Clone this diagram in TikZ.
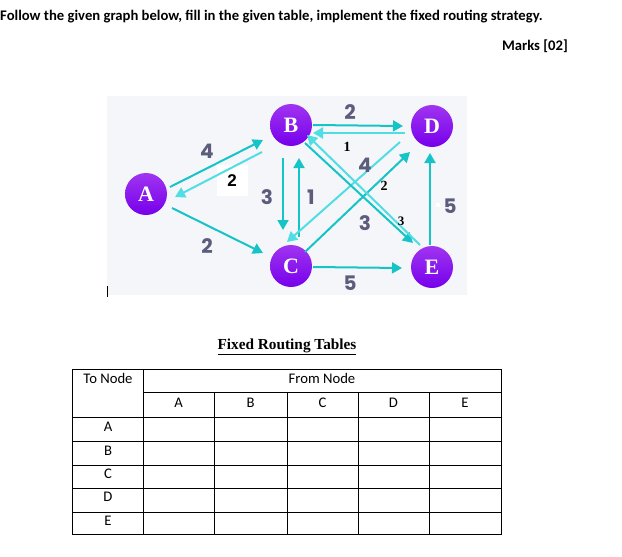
\documentclass[tikz,border=0pt]{standalone}
\usepackage{fontspec}
\setmainfont{Carlito}
\newfontfamily\lblfont{Poppins}
\newfontfamily\serifb{Liberation Serif}
\newfontfamily\sansb{Liberation Sans}
\usetikzlibrary{arrows.meta}
\definecolor{tealdark}{RGB}{22,196,200}
\definecolor{teallight}{RGB}{80,222,228}
\definecolor{lblgray}{RGB}{92,92,124}
\definecolor{bggray}{RGB}{245,246,249}
\definecolor{purtop}{RGB}{160,52,240}
\definecolor{purbot}{RGB}{118,0,235}
\tikzset{
  vtx/.style={circle,minimum size=42pt,inner sep=0pt,top color=purtop,bottom color=purbot,draw=none,
    text=white,font=\serifb\bfseries\fontsize{22}{22}\selectfont},
  edk/.style={draw=tealdark,line width=2pt,-{Triangle[length=10pt,width=11pt]}},
  elt/.style={draw=teallight,line width=2pt,-{Triangle[length=10pt,width=11pt]}},
  wlbl/.style={text=lblgray,font=\lblfont\bfseries\fontsize{20}{20}\selectfont,inner sep=0pt},
  blbl/.style={text=black,font=\serifb\bfseries\fontsize{14}{14}\selectfont,inner sep=0pt},
  cell/.style={font=\fontsize{14.67}{14.67}\selectfont,inner sep=0pt},
  tline/.style={draw=black,line width=0.9pt}
}
\begin{document}
\begin{tikzpicture}[x=1pt,y=-1pt]
\useasboundingbox (0,0) rectangle (622,557);
\fill[white] (0,0) rectangle (622,557);
% heading
\node[anchor=west,inner sep=0pt,font=\bfseries\fontsize{14.67}{14.67}\selectfont] (title) at (0,17) {Follow the given graph below, fill in the given table, implement the fixed routing strategy.};
\node[anchor=east,inner sep=0pt,font=\bfseries\fontsize{14.67}{14.67}\selectfont] (marks) at (568,46) {Marks [02]};
% graph background
\fill[bggray] (107,96) rectangle (467,295);
\draw[black,line width=0.8pt] (107,286) -- (107,297);
% white patch behind the black 2
\node[fill=white,minimum width=31pt,minimum height=31pt,inner sep=0pt] (wb) at (232.5,180.5) {};
% nodes
\node[vtx] (A) at (146,194) {A};
\node[vtx] (B) at (291,125) {B};
\node[vtx] (C) at (291,266) {C};
\node[vtx] (D) at (432,126) {D};
\node[vtx] (E) at (432,267) {E};
% edges
\path[edk] ([shift={(24,-7)}]A.center) -- ([shift={(-28,15)}]B.center);
\path[elt] ([shift={(-29,27)}]B.center) -- ([shift={(29,3)}]A.center);
\path[edk] ([shift={(26,14)}]A.center) -- ([shift={(-28,-13)}]C.center);
\path[edk] ([shift={(-8,33)}]B.center) -- ([shift={(-8,-36)}]C.center);
\path[edk] ([shift={(8,-29)}]C.center) -- ([shift={(8,33)}]B.center);
\path[edk] ([shift={(22,0)}]B.center) -- ([shift={(-29,0)}]D.center);
\path[elt] ([shift={(-27,7)}]D.center) -- ([shift={(22,8)}]B.center);
\path[edk] ([shift={(14,-14)}]C.center) -- ([shift={(-22,26)}]D.center);
\path[elt] ([shift={(-32,16)}]D.center) -- ([shift={(-4,-24)}]C.center);
\path[edk] ([shift={(14,18)}]B.center) -- ([shift={(-19,-24)}]E.center);
\path[elt] ([shift={(-12,-22)}]E.center) -- ([shift={(16,10)}]B.center);
\path[edk] ([shift={(22,1)}]C.center) -- ([shift={(-30,1)}]E.center);
\path[edk] ([shift={(-2,-22)}]E.center) -- ([shift={(-2,27)}]D.center);
% weight labels
\node[wlbl] (l1) at (207,151) {4};
\node[text=black,font=\sansb\bfseries\fontsize{17}{17}\selectfont,inner sep=0pt] (l2) at (232,181) {2};
\node[wlbl] (l3) at (207,246) {2};
\node[wlbl] (l4) at (267,197) {3};
\node[wlbl] (l5) at (311,197) {1};
\node[wlbl] (l6) at (350,112) {2};
\node[blbl] (l7) at (347,147) {1};
\node[wlbl] (l8) at (365,165) {4};
\node[blbl] (l9) at (384,186) {2};
\node[wlbl] (l10) at (365,223) {3};
\node[blbl,font=\serifb\bfseries\fontsize{13}{13}\selectfont] (l11) at (401,221) {3};
\fill[white] (436,203) rectangle (440,207);
\node[wlbl] (l12) at (450,206) {5};
\node[wlbl] (l13) at (350,283) {5};
% table
\node[font=\serifb\bfseries\fontsize{15.3}{15.3}\selectfont,inner sep=0pt] (ttl) at (287,347) {\underline{Fixed Routing Tables}};
\draw[tline] (72,369) rectangle (501,534);
\draw[tline] (143,369) -- (143,534);
\draw[tline] (143,392) -- (501,392);
\foreach \yy in {417,441,465,488,512} \draw[tline] (72,\yy) -- (501,\yy);
\foreach \xx in {214,287,358,429} \draw[tline] (\xx,392) -- (\xx,534);
\node[cell] (tn) at (108,378) {To Node};
\node[cell] (fn) at (322,378) {From Node};
\node[cell] (hA) at (178.5,403) {A};
\node[cell] (hB) at (250.5,403) {B};
\node[cell] (hC) at (322.5,403) {C};
\node[cell] (hD) at (393.5,403) {D};
\node[cell] (hE) at (465,403) {E};
\node[cell] (rA) at (108,427) {A};
\node[cell] (rB) at (108,451) {B};
\node[cell] (rC) at (108,474) {C};
\node[cell] (rD) at (108,497) {D};
\node[cell] (rE) at (108,521) {E};
\end{tikzpicture}
\end{document}
